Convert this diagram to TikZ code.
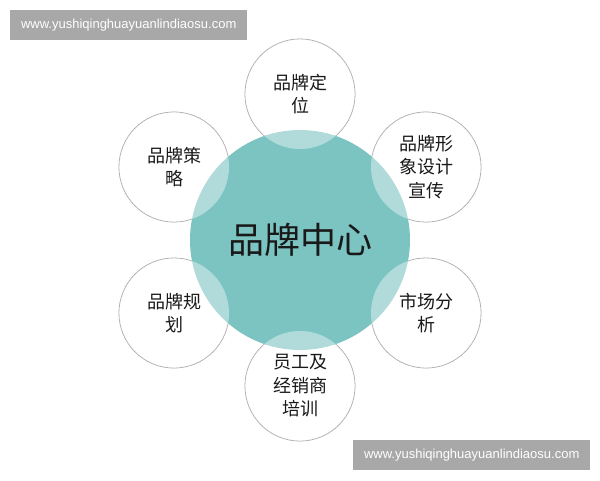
\documentclass[tikz,border=0pt]{standalone}
\usepackage{fontspec}
\setmainfont{Liberation Sans}
\newfontfamily\cjk{Noto Sans CJK SC}
\usepackage{tikz}
\usetikzlibrary{calc}
\definecolor{sarcelle}{HTML}{7CC4C2}
\definecolor{filigrane}{HTML}{A8A8A8}
\tikzset{
  petit/.style={circle,draw=gray!75,line width=0.8pt,fill=white,minimum size=110pt,inner sep=0pt},
  voile/.style={circle,fill=white,fill opacity=0.4,text opacity=1,minimum size=110pt,inner sep=0pt,align=center,font=\cjk\fontsize{18}{23.5}\selectfont,text=black!90},
  marque/.style={fill=filigrane,text=white,font=\fontsize{13}{15}\selectfont,minimum width=237pt,minimum height=30pt,inner sep=0pt}
}
\begin{document}
\begin{tikzpicture}[x=1pt,y=-1pt]
            \useasboundingbox (0,0) rectangle (600,480);
            \coordinate (O) at (300,240);
            \node[petit] (D) at (300,94) {};
            \node[petit] (S) at (174,167) {};
            \node[petit] (I) at (426,167) {};
            \node[petit] (P) at (174,313) {};
            \node[petit] (M) at (426,313) {};
            \node[petit] (F) at (300,386) {};
            \node[circle,fill=sarcelle,minimum size=220pt,inner sep=0pt,font=\cjk\fontsize{36}{40}\selectfont,text=black!90] (C) at (O) {品牌中心};
            \node[voile] at (D) {品牌定\\位};
            \node[voile] at (S) {品牌策\\略};
            \node[voile] at (I) {品牌形\\象设计\\宣传};
            \node[voile] at (P) {品牌规\\划};
            \node[voile] at (M) {市场分\\析};
            \node[voile] at (F) {员工及\\经销商\\培训};
            \node[marque,anchor=north west] (W1) at (10,10) {www.yushiqinghuayuanlindiaosu.com};
            \node[marque,anchor=north west] (W2) at (353,440) {www.yushiqinghuayuanlindiaosu.com};
        \end{tikzpicture}
\end{document}
